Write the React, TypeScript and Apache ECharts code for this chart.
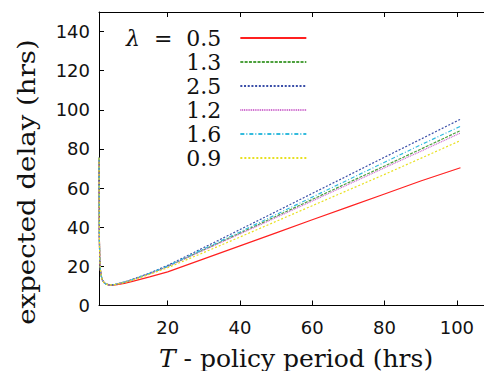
import React, { useEffect, useRef } from "react";
import * as echarts from "echarts";

const T = [1, 1.05, 1.1, 1.2, 1.4, 1.7, 2, 2.5, 3, 4, 5, 6, 8, 10, 15, 20, 30, 40, 50, 60, 70, 80, 90, 101];

const seriesNames = ["0.5", "1.3", "2.5", "1.2", "1.6", "0.9"];
const lam05 = [75, 50, 35, 24, 18, 14.5, 12.8, 11.5, 10.9, 10.4, 10.4, 10.6, 11.3, 12.2, 14.6, 17.2, 23.8, 30.5, 37.1, 43.8, 50.4, 57.0, 63.6, 70.4];
const lam13 = [75.5, 50, 35, 24, 18, 14.5, 12.8, 11.5, 10.9, 10.5, 10.6, 11.0, 11.9, 13.0, 16.3, 20.0, 28.5, 37.0, 45.6, 54.2, 62.8, 71.3, 79.9, 89.4];
const lam25 = [75.5, 50, 35, 24, 18, 14.5, 12.8, 11.5, 10.9, 10.5, 10.6, 11.0, 12.0, 13.2, 16.6, 20.5, 29.6, 38.8, 48.0, 57.3, 66.5, 75.8, 85.0, 95.2];
const lam12 = [75.5, 50, 35, 24, 18, 14.5, 12.8, 11.5, 10.9, 10.5, 10.6, 11.0, 11.9, 13.0, 16.2, 19.9, 28.3, 36.6, 45.0, 53.4, 61.9, 70.4, 78.8, 88.2];
const lam16 = [75.5, 50, 35, 24, 18, 14.5, 12.8, 11.5, 10.9, 10.5, 10.6, 11.0, 12.0, 13.1, 16.4, 20.2, 28.9, 37.6, 46.5, 55.4, 64.3, 73.2, 82.1, 91.6];
const lam09 = [75.5, 50, 35, 24, 18, 14.5, 12.8, 11.5, 10.9, 10.5, 10.5, 10.9, 11.7, 12.8, 15.9, 19.3, 27.1, 35.0, 43.0, 51.0, 59.0, 67.0, 75.2, 84.3];

const xTickValues = [20, 40, 60, 80, 100];
const yTickValues = [0, 20, 40, 60, 80, 100, 120, 140];

const allValues = [lam05, lam13, lam25, lam12, lam16, lam09];
const colors = ["#ff2020", "#4ca03c", "#3a4ea8", "#cc66cc", "#33bbdd", "#e8e020"];
const dashes: any[] = ["solid", [3, 1.3], [2, 1.7], [1, 0.8], [4, 2, 1, 2], [2, 2]];

export default function App() {
  const ref = useRef<HTMLDivElement>(null);
  useEffect(() => {
    if (!ref.current) return;
    const chart = echarts.init(ref.current, null, { renderer: "svg" });
    const series = seriesNames.map((name, i) => ({
      name,
      type: "line",
      showSymbol: false,
      symbol: "none",
      data: T.map((t, j) => [t, allValues[i][j]]),
      lineStyle: { color: colors[i], width: 1.2, type: dashes[i] },
      itemStyle: { color: colors[i] },
      z: 2 + i,
    }));
    const axisCommon = {
      axisLine: { show: true, lineStyle: { color: "#000", width: 1 } },
      splitLine: { show: false },
    };
    chart.setOption({
      animation: false,
      backgroundColor: "#fff",
      grid: { left: 99, right: -9, top: 12, bottom: 65.5, containLabel: false, outerBoundsMode: "none" },
      xAxis: [
        {
          type: "value",
          min: 1,
          max: 110,
          ...axisCommon,
          axisTick: { show: true, inside: true, length: 5, customValues: xTickValues, lineStyle: { color: "#000" } },
          axisLabel: {
            customValues: xTickValues,
            margin: 13,
            color: "#111",
            fontFamily: "DejaVu Sans",
            fontSize: 18,
          },
          name: "{i|T} - policy period (hrs)",
          nameLocation: "middle",
          nameGap: 40,
          nameTextStyle: {
            fontFamily: "DejaVu Serif",
            fontSize: 25,
            color: "#111",
            rich: { i: { fontFamily: "DejaVu Serif", fontStyle: "italic", fontSize: 25, color: "#111" } },
          },
        },
        {
          type: "value",
          position: "top",
          min: 1,
          max: 110,
          ...axisCommon,
          axisTick: { show: true, inside: true, length: 5, customValues: xTickValues, lineStyle: { color: "#000" } },
          axisLabel: { show: false },
        },
      ],
      yAxis: [
        {
          type: "value",
          min: 0,
          max: 150,
          ...axisCommon,
          axisTick: { show: true, inside: true, length: 5, customValues: yTickValues, lineStyle: { color: "#000" } },
          axisLabel: {
            customValues: yTickValues,
            margin: 9,
            color: "#111",
            fontFamily: "DejaVu Sans",
            fontSize: 18,
          },
        },
      ],
      legend: {
        orient: "vertical",
        left: 126,
        top: 26,
        padding: 0,
        align: "right",
        itemWidth: 66,
        itemHeight: 10,
        itemGap: 0,
        itemStyle: { opacity: 0 },
        data: seriesNames,
        formatter: (name: string) => (name === "0.5" ? "{i|λ}  =  0.5" : name),
        textStyle: {
          fontFamily: "DejaVu Serif",
          fontSize: 22,
          color: "#111",
          lineHeight: 24,
          padding: [0, 14, 0, 0],
          rich: {
            i: { fontFamily: "DejaVu Serif", fontStyle: "italic", fontSize: 22, color: "#111", lineHeight: 24 },
          },
        },
      },
      graphic: [
        {
          type: "text",
          x: 27,
          y: 182,
          rotation: Math.PI / 2,
          scaleX: 1.15,
          style: {
            text: "expected delay (hrs)",
            fontFamily: "DejaVu Serif",
            fontSize: 24,
            fill: "#111",
            align: "center",
            verticalAlign: "middle",
          },
        },
      ],
      series,
    });
    return () => chart.dispose();
  }, []);
  return <div ref={ref} style={{ width: 484, height: 371, position: "absolute", left: 0, top: 0 }} />;
}
